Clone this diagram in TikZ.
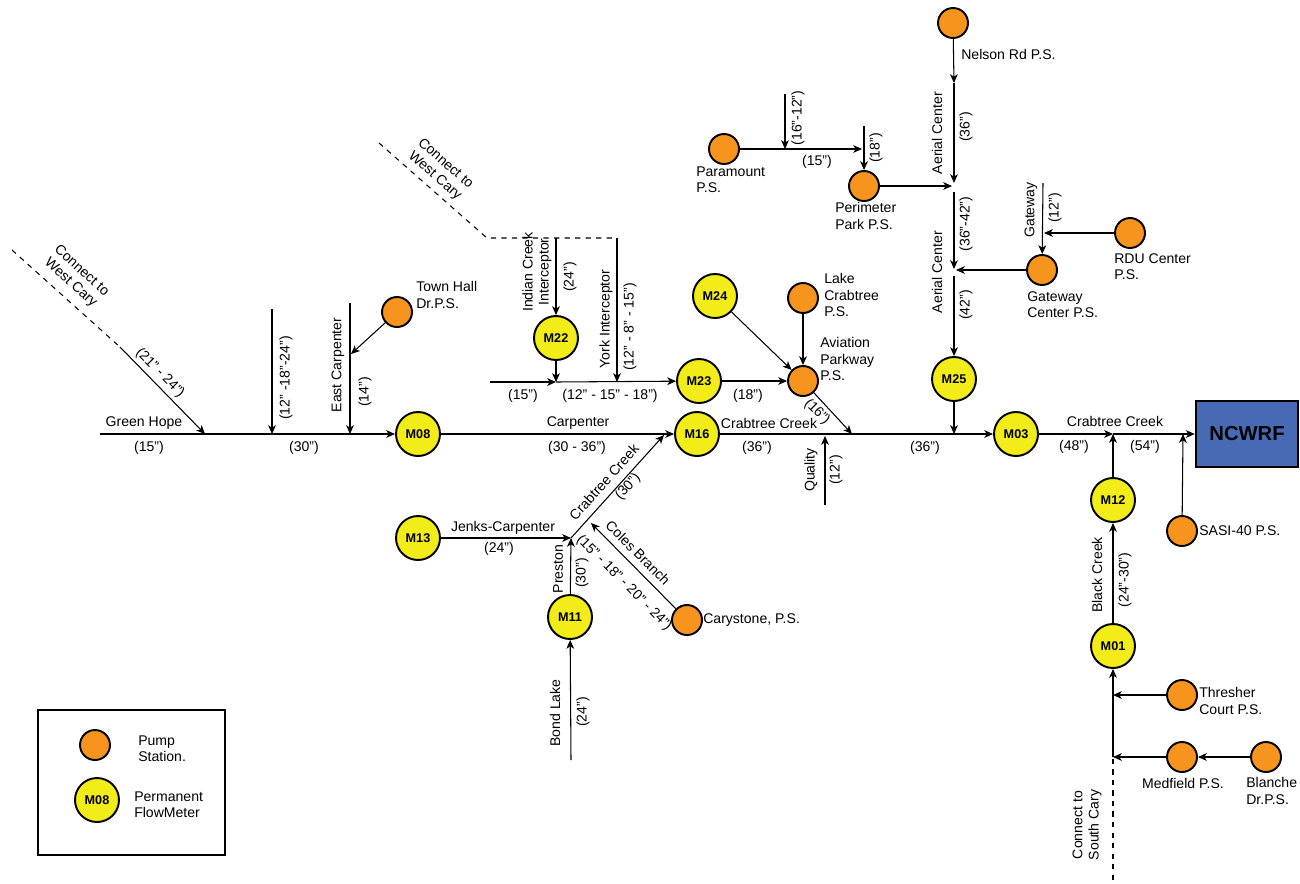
\documentclass[tikz,border=0pt]{standalone}
\usepackage{fontspec}
\setmainfont{Liberation Sans}
\usetikzlibrary{arrows.meta}
\definecolor{pumporange}{RGB}{247,148,29}
\definecolor{meteryellow}{RGB}{242,236,24}
\definecolor{plantblue}{RGB}{72,106,180}
\tikzset{>={Stealth[length=5pt,width=4.4pt,inset=1.4pt]}}
\tikzset{
    pump/.style={circle,draw,line width=1.1pt,fill=pumporange,minimum size=0.6cm,inner sep=0pt},
    meter/.style={circle,draw,line width=1.1pt,fill=meteryellow,minimum size=0.88cm,inner sep=0pt,font=\fontsize{7.2}{8}\selectfont\bfseries},
    lbl/.style={font=\fontsize{8}{9.2}\selectfont,inner sep=1pt},
    plant/.style={draw,line width=1.5pt,fill=plantblue,minimum width=2.04cm,minimum height=1.32cm,font=\fontsize{11.5}{13}\selectfont\bfseries}
}

\begin{document}
\begin{tikzpicture}[x=0.02cm,y=-0.02cm,line width=0.6pt]
\useasboundingbox (0,0) rectangle (1300,883);
\node[pump] (townhall) at (397,312) {};
\node[pump] (carystone) at (687,620) {};
\node[pump] (lakecrab) at (803,298) {};
\node[pump] (aviation) at (803,381) {};
\node[pump] (paramount) at (724,149) {};
\node[pump] (perimeter) at (864,186) {};
\node[pump] (nelson) at (953,23) {};
\node[pump] (gateway) at (1042,270) {};
\node[pump] (rdu) at (1130,233) {};
\node[pump] (sasi) at (1182,531) {};
\node[pump] (thresher) at (1182,695) {};
\node[pump] (medfield) at (1182,757) {};
\node[pump] (blanche) at (1266,757) {};
\node[meter] (m08) at (418,434) {M08};
\node[meter] (m16) at (697,434) {M16};
\node[meter] (m22) at (556,338) {M22};
\node[meter] (m23) at (699,381) {M23};
\node[meter] (m24) at (715,296) {M24};
\node[meter] (m25) at (954,379) {M25};
\node[meter] (m03) at (1016,434) {M03};
\node[meter] (m13) at (418,538) {M13};
\node[meter] (m11) at (570,617) {M11};
\node[meter] (m12) at (1113,500) {M12};
\node[meter] (m01) at (1113,646) {M01};
\node[plant] (ncwrf) at (1247,434) {NCWRF};

\coordinate (gh) at (100,434);
\coordinate (wca) at (12,250);
\coordinate (wcb) at (120,347);
\coordinate (ghj) at (205,434);
\coordinate (t272) at (272,309);
\coordinate (j272) at (272,434);
\coordinate (t350) at (350,303);
\coordinate (j350) at (350,434);
\coordinate (th) at (351,354);
\coordinate (cj) at (571,538);
\coordinate (cc) at (664,435);
\coordinate (cb) at (591,523);
\coordinate (bl) at (571,760);
\coordinate (q) at (825,505);
\coordinate (qj) at (825,436);
\coordinate (avj) at (852,434);
\coordinate (m25j) at (954,434);
\coordinate (bcj) at (1113,434);
\coordinate (sasij) at (1183,434);
\coordinate (tj) at (1113,695);
\coordinate (mj) at (1113,757);
\coordinate (sc) at (1113,880);
\coordinate (wcc) at (379,143);
\coordinate (wcd) at (487,238);
\coordinate (icj) at (556,238);
\coordinate (ykj) at (617,238);
\coordinate (up) at (490,382);
\coordinate (icb) at (556,382);
\coordinate (ykb) at (617,382);
\coordinate (ac1) at (954,83);
\coordinate (ac2) at (954,183);
\coordinate (ac3) at (954,192);
\coordinate (ac4) at (954,269);
\coordinate (ac5) at (954,276);
\coordinate (pj) at (952,186);
\coordinate (gj) at (956,270);
\coordinate (pmj) at (862,149);
\coordinate (pmt) at (785,94);
\coordinate (pmb) at (785,149);
\coordinate (ppt) at (864,126);
\coordinate (gwt) at (1043,183);
\coordinate (gwj) at (1044,233);

\draw[dashed] (wca) -- (wcb);
\draw[->] (wcb) -- (ghj);
\draw[->] (gh) -- (m08);
\draw[->] (t272) -- (j272);
\draw[->] (t350) -- (j350);
\draw[->] (townhall) -- (th);
\draw[->] (m08) -- (m16);
\draw[->] (m13) -- (cj);
\draw[->] (m11) -- (cj);
\draw[->] (cj) -- (cc);
\draw[->] (bl) -- (m11);
\draw[->] (carystone) -- (cb);
\draw[->] (m16) -- (m03);
\draw[->] (q) -- (qj);
\draw[->] (aviation) -- (avj);
\draw[->] (m25) -- (m25j);
\draw[->] (m03) -- (bcj);
\draw[->] (bcj) -- (ncwrf);
\draw[->] (m12) -- (bcj);
\draw[->] (m01) -- (m12);
\draw[->] (sasi) -- (sasij);
\draw[dashed] (sc) -- (mj);
\draw[->] (mj) -- (m01);
\draw[->] (thresher) -- (tj);
\draw[->] (medfield) -- (mj);
\draw[->] (blanche) -- (medfield);
\draw[dashed] (wcc) -- (wcd) -- (ykj);
\draw[->] (icj) -- (m22);
\draw[->] (m22) -- (icb);
\draw[->] (ykj) -- (ykb);
\draw[->] (up) -- (icb);
\draw[->] (icb) -- (m23);
\draw[->] (m23) -- (aviation);
\draw[->] (m24) -- (aviation);
\draw[->] (lakecrab) -- (aviation);
\draw[->] (nelson) -- (ac1);
\draw[->] (ac1) -- (ac2);
\draw[->] (ac3) -- (ac4);
\draw[->] (ac5) -- (m25);
\draw[->] (perimeter) -- (pj);
\draw[->] (gateway) -- (gj);
\draw[->] (paramount) -- (pmj);
\draw[->] (pmt) -- (pmb);
\draw[->] (ppt) -- (perimeter);
\draw[->] (gwt) -- (gateway);
\draw[->] (rdu) -- (gwj);

\node[lbl,align=center,rotate=-42] (wclbl) at (76,277) {Connect to\\West Cary};
\node[lbl,rotate=-45] (ghsize) at (160,373) {(21" - 24")};
\node[lbl] (ghname) at (144,423) {Green Hope};
\node[lbl] (ghpipe) at (149,448) {(15")};
\node[lbl,rotate=90] (s272) at (286,378) {(12" -18"-24")};
\node[lbl] (s30) at (304,448) {(30")};
\node[lbl,rotate=90] (ecname) at (338,365) {East Carpenter};
\node[lbl,rotate=90] (ecsize) at (365,392) {(14")};
\node[lbl,align=left,anchor=west] (thlbl) at (414,295) {Town Hall\\Dr.P.S.};
\node[lbl] (cpname) at (578,423) {Carpenter};
\node[lbl] (cpsize) at (577,448) {(30 - 36")};
\node[lbl,rotate=48] (ccname) at (604,482) {Crabtree Creek};
\node[lbl,rotate=48] (ccsize) at (628,487) {(30")};
\node[lbl] (jkname) at (503,528) {Jenks-Carpenter};
\node[lbl] (jksize) at (499,549) {(24")};
\node[lbl,rotate=90] (prname) at (558,569) {Preston};
\node[lbl,rotate=90] (prsize) at (582,573) {(30")};
\node[lbl,rotate=-45] (cbname) at (638,553) {Coles Branch};
\node[lbl,rotate=-45] (cbsize) at (624,583) {(15" - 18" - 20" - 24")};
\node[lbl,anchor=west] (cylbl) at (701,620) {Carystone, P.S.};
\node[lbl,rotate=90] (blname) at (555,713) {Bond Lake};
\node[lbl,rotate=90] (blsize) at (583,712) {(24")};
\node[lbl] (crname) at (769,423) {Crabtree Creek};
\node[lbl] (crsize) at (757,448) {(36")};
\node[lbl,rotate=90] (qname) at (811,470) {Quality};
\node[lbl,rotate=90] (qsize) at (836,470) {(12")};
\node[lbl] (crsize2) at (925,448) {(36")};
\node[lbl,align=center,rotate=-41] (wclbl2) at (440,170) {Connect to\\West Cary};
\node[lbl,align=center,rotate=90] (icname) at (537,272) {Indian Creek\\Interceptor};
\node[lbl,rotate=90] (icsize) at (570,277) {(24")};
\node[lbl,rotate=90] (ykname) at (606,319) {York Interceptor};
\node[lbl,rotate=90] (yksize) at (630,327) {(12" - 8" - 15")};
\node[lbl] (upsize) at (523,396) {(15")};
\node[lbl] (upsize2) at (610,396) {(12" - 15" - 18")};
\node[lbl] (m23size) at (748,396) {(18")};
\node[lbl,align=left,anchor=west] (lclbl) at (822,295) {Lake\\Crabtree\\P.S.};
\node[lbl,align=left,anchor=west] (avlbl) at (818,359) {Aviation\\Parkway\\P.S.};
\node[lbl,rotate=-45] (avsize) at (817,412) {(16")};
\node[lbl,align=left,anchor=west] (pmlbl) at (694,180) {Paramount\\P.S.};
\node[lbl] (pmsize) at (817,162) {(15")};
\node[lbl,rotate=90] (pmsize2) at (798,118) {(16"-12")};
\node[lbl,rotate=90] (ppsize) at (876,148) {(18")};
\node[lbl,align=left,anchor=west] (pplbl) at (833,216) {Perimeter\\Park P.S.};
\node[lbl,anchor=west] (nrlbl) at (959,54) {Nelson Rd P.S.};
\node[lbl,rotate=90] (acname) at (937,133) {Aerial Center};
\node[lbl,rotate=90] (acsize) at (966,127) {(36")};
\node[lbl,rotate=90] (acsize2) at (966,224) {(36"-42")};
\node[lbl,rotate=90] (acname2) at (937,272) {Aerial Center};
\node[lbl,rotate=90] (acsize3) at (966,305) {(42")};
\node[lbl,rotate=90] (gwname) at (1031,210) {Gateway};
\node[lbl,rotate=90] (gwsize) at (1055,208) {(12")};
\node[lbl,align=left,anchor=west] (rdulbl) at (1112,267) {RDU Center\\P.S.};
\node[lbl,align=left,anchor=west] (gwlbl) at (1025,305) {Gateway\\Center P.S.};
\node[lbl] (crname2) at (1115,421) {Crabtree Creek};
\node[lbl] (crsize3) at (1074,447) {(48")};
\node[lbl] (crsize4) at (1145,447) {(54")};
\node[lbl,rotate=90] (bkname) at (1097,575) {Black Creek};
\node[lbl,rotate=90] (bksize) at (1125,580) {(24"-30")};
\node[lbl,anchor=west] (sasilbl) at (1197,531) {SASI-40 P.S.};
\node[lbl,align=left,anchor=west] (trlbl) at (1197,701) {Thresher\\Court P.S.};
\node[lbl] (mflbl) at (1183,783) {Medfield P.S.};
\node[lbl,align=left,anchor=west] (bclbl) at (1244,791) {Blanche\\Dr.P.S.};
\node[lbl,align=center,rotate=90] (sclbl) at (1087,825) {Connect to\\South Cary};

\draw[line width=0.8pt] (38,710) rectangle (225,855);
\node[pump] (keypump) at (95,745) {};
\node[meter] (keymeter) at (97,800) {M08};
\node[lbl,align=left,anchor=west] (keypumplbl) at (136,749) {Pump\\Station.};
\node[lbl,align=left,anchor=west] (keymeterlbl) at (132,805) {Permanent\\FlowMeter};
\end{tikzpicture}
\end{document}
